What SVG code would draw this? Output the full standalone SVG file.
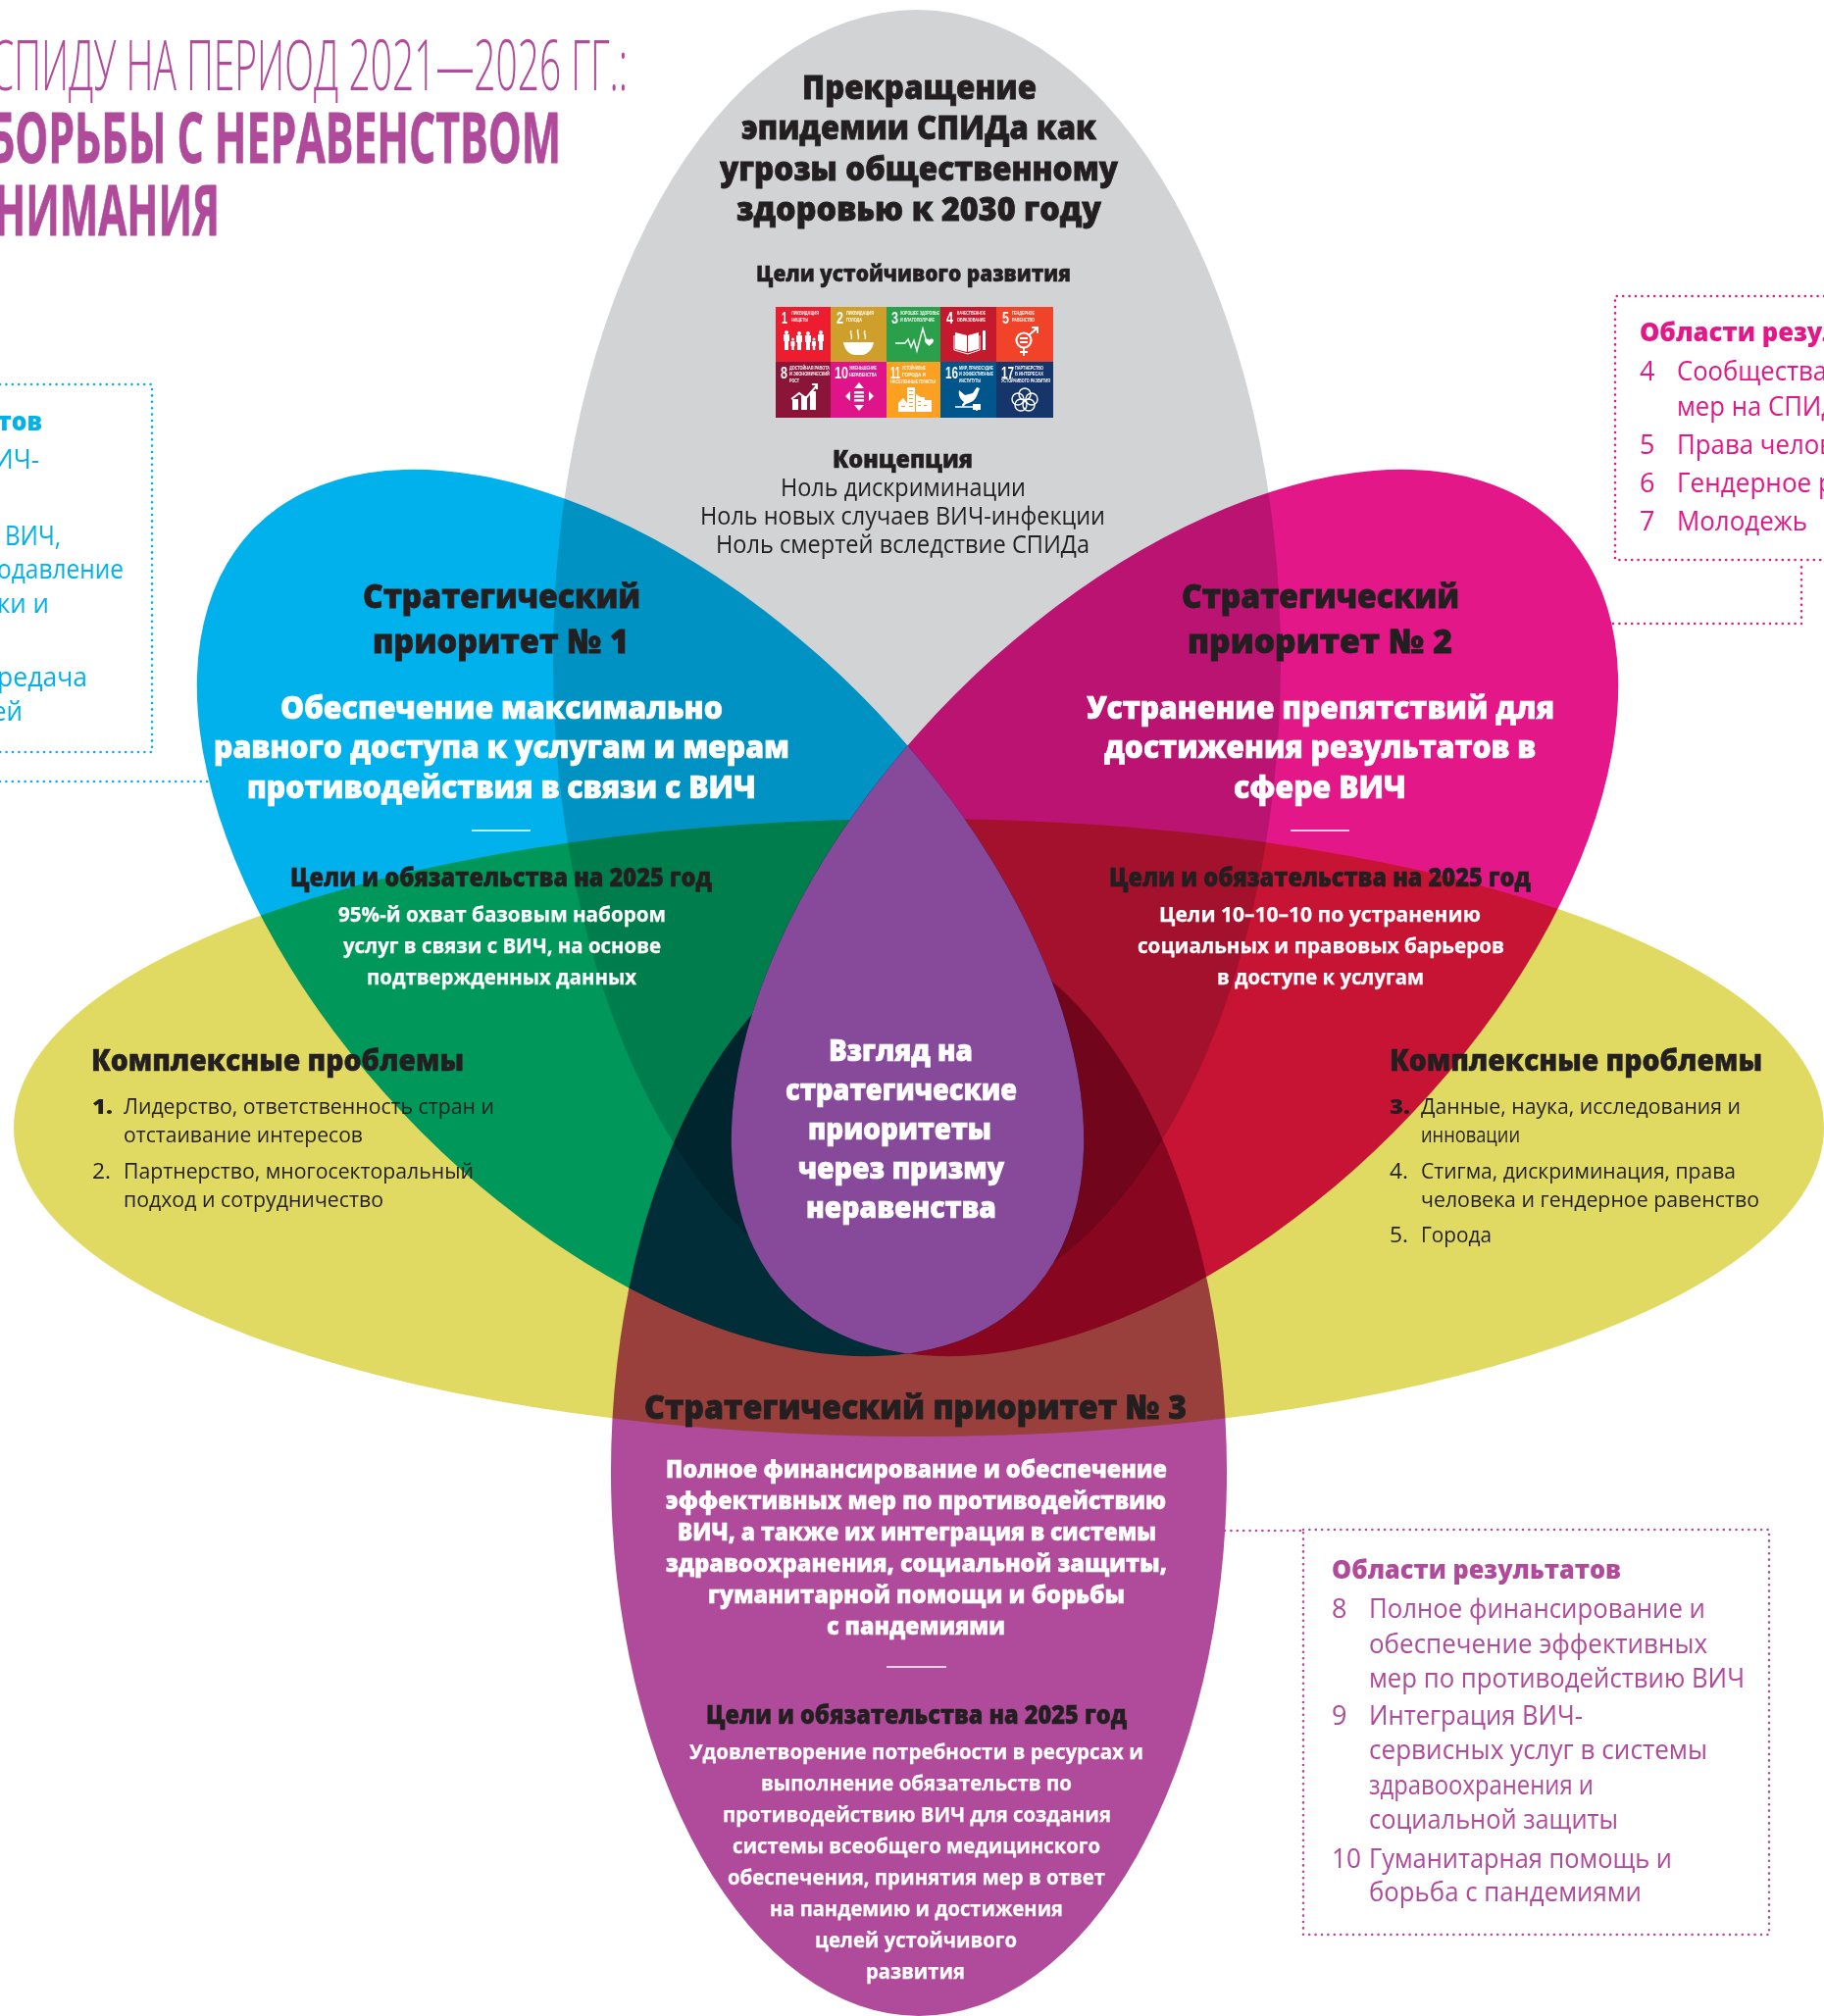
<svg xmlns="http://www.w3.org/2000/svg" width="1860" height="2056" viewBox="0 0 1860 2056">
<defs>
<clipPath id="pinkClip"><ellipse cx="1198" cy="931" rx="556" ry="316" transform="rotate(-45 1198 931)"/></clipPath>
</defs>
<style>
text{font-family:"Open Sans","Noto Sans",sans-serif;fill:#231F20}
.m{mix-blend-mode:multiply}
.h{font-weight:800;font-size:34px;stroke:#231F20;stroke-width:.8}
.h2{font-weight:800;font-size:26px;stroke:#231F20;stroke-width:.5}
.p{font-weight:700;font-size:21px;fill:#fff;stroke:#fff;stroke-width:.25}
.s{font-weight:800;font-size:31px;fill:#fff;stroke:#fff;stroke-width:.7}
.b{font-size:25px}
.c{font-size:21px}
.t{font-size:72px;fill:#B04A9A;font-weight:300}
.tb{font-size:72px;fill:#B04A9A;font-weight:700;stroke:#B04A9A;stroke-width:.8}
.o{font-size:27px}
.ob{font-size:27px;font-weight:800}
.cy{fill:#00B1EB}
.pk{fill:#E31788}
.pu{fill:#B04A9A}
.dot{fill:none;stroke-width:2.6;stroke-linecap:round;stroke-dasharray:0 6.4}
.rule{stroke:#fff;stroke-width:1.5}
.n{font-family:"Liberation Sans",sans-serif;font-weight:700;font-size:16px;fill:#fff}
.l{font-family:"Liberation Sans",sans-serif;font-weight:700;font-size:5px;fill:#fff}
.i{fill:#fff}
.il{fill:none;stroke:#fff;stroke-width:1.4}
.win{fill:#FBA020}
</style>
<rect width="1860" height="2056" fill="#fff"/>
<g id="title">
<text class="t" x="-10" y="92" textLength="650" lengthAdjust="spacingAndGlyphs">СПИДУ НА ПЕРИОД 2021—2026 ГГ.:</text>
<text class="tb" x="-12" y="166" textLength="584" lengthAdjust="spacingAndGlyphs">БОРЬБЫ С НЕРАВЕНСТВОМ</text>
<text class="tb" x="-6" y="240" textLength="230" lengthAdjust="spacingAndGlyphs">НИМАНИЯ</text>
</g>
<g id="petals">
<ellipse id="petal-goal" class="m" cx="935" cy="673" rx="371" ry="663" fill="#D1D3D4"/>
<ellipse id="petal-challenges" class="m" cx="937" cy="1150" rx="923" ry="315" fill="#E0DA63"/>
<ellipse id="petal-3" class="m" cx="937" cy="1501" rx="314" ry="555" fill="#B04A9A"/>
<ellipse id="petal-1" class="m" cx="653" cy="931" rx="556" ry="316" transform="rotate(45 653 931)" fill="#00B1EB"/>
<ellipse id="petal-2" class="m" cx="1198" cy="931" rx="556" ry="316" transform="rotate(-45 1198 931)" fill="#E31788"/>
<g id="petal-center" clip-path="url(#pinkClip)"><ellipse cx="653" cy="931" rx="556" ry="316" transform="rotate(45 653 931)" fill="#874A9B"/></g>
</g>
<g id="connectors">
<path class="dot" stroke="#00B1EB" d="M0 797H214"/>
<path class="dot" stroke="#E31788" d="M1645 636H1837V577"/>
<path class="dot" stroke="#B04A9A" d="M1249 1561H1329"/>
</g>
<g id="node-goal">
<text class="h" x="818" y="101" textLength="239" lengthAdjust="spacingAndGlyphs">Прекращение</text>
<text class="h" x="756" y="142" textLength="362" lengthAdjust="spacingAndGlyphs">эпидемии СПИДа как</text>
<text class="h" x="734" y="184" textLength="406" lengthAdjust="spacingAndGlyphs">угрозы общественному</text>
<text class="h" x="751" y="225" textLength="372" lengthAdjust="spacingAndGlyphs">здоровью к 2030 году</text>
<text class="h2" style="font-size:22px" x="771" y="287" textLength="321" lengthAdjust="spacingAndGlyphs">Цели устойчивого развития</text>
<text class="h2" style="font-size:25px" x="849" y="477" textLength="143" lengthAdjust="spacingAndGlyphs">Концепция</text>
<text class="b" x="796" y="506" textLength="250" lengthAdjust="spacingAndGlyphs">Ноль дискриминации</text>
<text class="b" x="714" y="535" textLength="413" lengthAdjust="spacingAndGlyphs">Ноль новых случаев ВИЧ-инфекции</text>
<text class="b" x="730" y="564" textLength="381" lengthAdjust="spacingAndGlyphs">Ноль смертей вследствие СПИДа</text>
</g>
<g id="sdg">
<rect x="791" y="313" width="56.5" height="56.5" fill="#ED1C2E"/>
<rect x="847" y="313" width="57.5" height="56.5" fill="#CF9F2B"/>
<rect x="904" y="313" width="55.5" height="56.5" fill="#2AA04A"/>
<rect x="959" y="313" width="57.5" height="56.5" fill="#C5192D"/>
<rect x="1016" y="313" width="58" height="56.5" fill="#F04329"/>
<rect x="791" y="369" width="56.5" height="57" fill="#8A1538"/>
<rect x="847" y="369" width="57.5" height="57" fill="#E0148A"/>
<rect x="904" y="369" width="55.5" height="57" fill="#FBA020"/>
<rect x="959" y="369" width="57.5" height="57" fill="#00558A"/>
<rect x="1016" y="369" width="58" height="57" fill="#16366B"/>
<text class="n" x="797" y="330" textLength="6" lengthAdjust="spacingAndGlyphs">1</text><text class="l" x="807" y="321" textLength="28" lengthAdjust="spacingAndGlyphs">ЛИКВИДАЦИЯ</text><text class="l" x="807" y="328" textLength="17" lengthAdjust="spacingAndGlyphs">НИЩЕТЫ</text>
<text class="n" x="853" y="330" textLength="7" lengthAdjust="spacingAndGlyphs">2</text><text class="l" x="863" y="321" textLength="28" lengthAdjust="spacingAndGlyphs">ЛИКВИДАЦИЯ</text><text class="l" x="863" y="328" textLength="16" lengthAdjust="spacingAndGlyphs">ГОЛОДА</text>
<text class="n" x="909" y="330" textLength="7" lengthAdjust="spacingAndGlyphs">3</text><text class="l" x="918" y="321" textLength="40" lengthAdjust="spacingAndGlyphs">ХОРОШЕЕ ЗДОРОВЬЕ</text><text class="l" x="918" y="328" textLength="35" lengthAdjust="spacingAndGlyphs">И БЛАГОПОЛУЧИЕ</text>
<text class="n" x="965" y="330" textLength="7" lengthAdjust="spacingAndGlyphs">4</text><text class="l" x="976" y="321" textLength="29" lengthAdjust="spacingAndGlyphs">КАЧЕСТВЕННОЕ</text><text class="l" x="976" y="328" textLength="29" lengthAdjust="spacingAndGlyphs">ОБРАЗОВАНИЕ</text>
<text class="n" x="1022" y="330" textLength="7" lengthAdjust="spacingAndGlyphs">5</text><text class="l" x="1032" y="321" textLength="23" lengthAdjust="spacingAndGlyphs">ГЕНДЕРНОЕ</text><text class="l" x="1032" y="328" textLength="23" lengthAdjust="spacingAndGlyphs">РАВЕНСТВО</text>
<text class="n" x="796" y="386" textLength="7" lengthAdjust="spacingAndGlyphs">8</text><text class="l" x="805" y="377" textLength="41" lengthAdjust="spacingAndGlyphs">ДОСТОЙНАЯ РАБОТА</text><text class="l" x="805" y="383" textLength="41" lengthAdjust="spacingAndGlyphs">И ЭКОНОМИЧЕСКИЙ</text><text class="l" x="805" y="390" textLength="10" lengthAdjust="spacingAndGlyphs">РОСТ</text>
<text class="n" x="851" y="386" textLength="14" lengthAdjust="spacingAndGlyphs">10</text><text class="l" x="866" y="377" textLength="28" lengthAdjust="spacingAndGlyphs">УМЕНЬШЕНИЕ</text><text class="l" x="866" y="384" textLength="28" lengthAdjust="spacingAndGlyphs">НЕРАВЕНСТВА</text>
<text class="n" x="908" y="386" textLength="10" lengthAdjust="spacingAndGlyphs">11</text><text class="l" x="920" y="377" textLength="24" lengthAdjust="spacingAndGlyphs">УСТОЙЧИВЫЕ</text><text class="l" x="920" y="384" textLength="24" lengthAdjust="spacingAndGlyphs">ГОРОДА И</text><text class="l" x="908" y="391" textLength="46" lengthAdjust="spacingAndGlyphs">НАСЕЛЕННЫЕ ПУНКТЫ</text>
<text class="n" x="964" y="386" textLength="13" lengthAdjust="spacingAndGlyphs">16</text><text class="l" x="978" y="377" textLength="35" lengthAdjust="spacingAndGlyphs">МИР, ПРАВОСУДИЕ</text><text class="l" x="978" y="383" textLength="35" lengthAdjust="spacingAndGlyphs">И ЭФФЕКТИВНЫЕ</text><text class="l" x="978" y="390" textLength="22" lengthAdjust="spacingAndGlyphs">ИНСТИТУТЫ</text>
<text class="n" x="1021" y="386" textLength="13" lengthAdjust="spacingAndGlyphs">17</text><text class="l" x="1035" y="377" textLength="29" lengthAdjust="spacingAndGlyphs">ПАРТНЕРСТВО</text><text class="l" x="1035" y="383" textLength="29" lengthAdjust="spacingAndGlyphs">В ИНТЕРЕСАХ</text><text class="l" x="1021" y="390" textLength="50" lengthAdjust="spacingAndGlyphs">УСТОЙЧИВОГО РАЗВИТИЯ</text>
<g id="sdg-icons">
<circle class="i" cx="802" cy="339" r="2"/><path class="i" d="M799 341h6v7h-1v9h-4v-9h-1z"/>
<circle class="i" cx="808.500" cy="346" r="1.500"/><path class="i" d="M806.500 348h4v5h-.8v4h-2.400v-4h-.8z"/>
<circle class="i" cx="815" cy="340" r="2"/><path class="i" d="M812 342h6v7h-1v8h-4v-8h-1z"/>
<circle class="i" cx="824" cy="340" r="2"/><path class="i" d="M821 342h6v7h-1v8h-4v-8h-1z"/>
<circle class="i" cx="830" cy="346" r="1.500"/><path class="i" d="M828 348h4v5h-.8v4h-2.400v-4h-.8z"/>
<circle class="i" cx="837" cy="339" r="2"/><path class="i" d="M834 341h6v7h-1v9h-4v-9h-1z"/>
<path class="i" d="M860 349h31c-1 8-7 12-11 13h-9c-5-1-10-5-11-13z"/>
<path class="il" d="M868 337c-2 3 2 5 0 9M875 336c-2 3 2 6 0 10M882 337c-2 3 2 5 0 9"/>
<path class="il" d="M913 350h10l3-4 3 8 3-7 3 11 6-23 4 14h3"/>
<path class="i" d="M943 347c1-2 4-2 4.500 0 .5-2 4-2 4.500 0 0 3-3 4-4.500 6-1.500-2-4.500-3-4.500-6z"/>
<path class="i" d="M974 339l12 3v17l-12-3zM998 339l-11 3v17l11-3z"/><path class="il" style="stroke-width:1" d="M973 342v15l14 4 12-4v-15"/>
<rect class="i" x="1002" y="337" width="3" height="20"/>
<circle cx="1044" cy="347" r="7.500" fill="none" stroke="#fff" stroke-width="2.200"/>
<path class="il" style="stroke-width:2" d="M1044 355v8M1040 359h8M1049 342l8-7M1052 334h6v6"/>
<path class="i" d="M1040 344h8v2h-8zM1040 348h8v2h-8z"/>
<path class="i" d="M808 407h6v11h-6zM817 404h6v14h-6zM826 399h6v19h-6z"/>
<path class="il" style="stroke-width:2" d="M807 407l8-6 7 5 11-13M828 392h5v5"/>
<path class="i" d="M876 390l5 6h-10zM876 419l5-6h-10zM862 404l5-5v10zM891 404l-5-5v10z"/><path class="i" d="M871 399h10v2.500h-10zM871 403h10v2.500h-10zM871 407h10v2.500h-10z"/>
<path class="i" d="M916 411l5-5 4 5v9h-9zM925 395h8v25h-8zM934 402l5 3h4v3h7v12h-16z"/>
<path class="win" d="M927 398h4v1h-4zM927 402h4v1h-4zM927 406h4v1h-4zM927 410h4v1h-4zM927 414h4v1h-4zM936 409h3v1h-3zM936 413h3v1h-3zM942 413h3v1h-3zM919 414h4v1h-4z"/>
<path class="i" d="M978 398l6 5 8-2 4-6 3 1-3 8c-2 4-5 6-8 7l-3 1-2 2-2-1 2-3c-4-3-6-7-5-12z"/>
<path class="il" d="M974 415h26M982 415v-3M996 413v6"/>
<rect class="i" x="992" y="412" width="8" height="6"/>
<g class="il"><circle cx="1045" cy="402" r="6"/><circle cx="1038" cy="407" r="6"/><circle cx="1052" cy="407" r="6"/><circle cx="1041" cy="413" r="6"/><circle cx="1049" cy="413" r="6"/></g>
</g>
</g>
<g id="node-1">
<text class="h" x="370" y="620" textLength="283" lengthAdjust="spacingAndGlyphs">Стратегический</text>
<text class="h" x="380" y="666" textLength="261" lengthAdjust="spacingAndGlyphs">приоритет № 1</text>
<text class="s" x="286" y="733" textLength="451" lengthAdjust="spacingAndGlyphs">Обеспечение максимально</text>
<text class="s" x="218" y="773" textLength="587" lengthAdjust="spacingAndGlyphs">равного доступа к услугам и мерам</text>
<text class="s" x="252" y="814" textLength="519" lengthAdjust="spacingAndGlyphs">противодействия в связи с ВИЧ</text>
<line class="rule" x1="481" y1="847" x2="541" y2="847"/>
<text class="h2" x="296" y="904" textLength="430" lengthAdjust="spacingAndGlyphs">Цели и обязательства на 2025 год</text>
<text class="p" x="345" y="940" textLength="334" lengthAdjust="spacingAndGlyphs">95%-й охват базовым набором</text>
<text class="p" x="350" y="972" textLength="324" lengthAdjust="spacingAndGlyphs">услуг в связи с ВИЧ, на основе</text>
<text class="p" x="374" y="1004" textLength="275" lengthAdjust="spacingAndGlyphs">подтвержденных данных</text>
</g>
<g id="node-2">
<text class="h" x="1205" y="620" textLength="283" lengthAdjust="spacingAndGlyphs">Стратегический</text>
<text class="h" x="1211" y="666" textLength="270" lengthAdjust="spacingAndGlyphs">приоритет  № 2</text>
<text class="s" x="1108" y="733" textLength="477" lengthAdjust="spacingAndGlyphs">Устранение препятствий для</text>
<text class="s" x="1126" y="773" textLength="440" lengthAdjust="spacingAndGlyphs">достижения результатов в</text>
<text class="s" x="1258" y="814" textLength="176" lengthAdjust="spacingAndGlyphs">сфере ВИЧ</text>
<line class="rule" x1="1316" y1="847" x2="1376" y2="847"/>
<text class="h2" x="1131" y="904" textLength="430" lengthAdjust="spacingAndGlyphs">Цели и обязательства на 2025 год</text>
<text class="p" x="1182" y="940" textLength="328" lengthAdjust="spacingAndGlyphs">Цели 10–10–10 по устранению</text>
<text class="p" x="1160" y="972" textLength="374" lengthAdjust="spacingAndGlyphs">социальных и правовых барьеров</text>
<text class="p" x="1241" y="1004" textLength="211" lengthAdjust="spacingAndGlyphs">в доступе к услугам</text>
</g>
<g id="node-challenges-left">
<text class="h2" style="font-size:30px" x="93" y="1092" textLength="380" lengthAdjust="spacingAndGlyphs">Комплексные проблемы</text>
<text class="c" style="font-weight:800" x="94" y="1136" textLength="21" lengthAdjust="spacingAndGlyphs">1.</text>
<text class="c" x="126" y="1136" textLength="378" lengthAdjust="spacingAndGlyphs">Лидерство, ответственность стран и</text>
<text class="c" x="126" y="1165" textLength="244" lengthAdjust="spacingAndGlyphs">отстаивание интересов</text>
<text class="c" x="94" y="1202" textLength="19" lengthAdjust="spacingAndGlyphs">2.</text>
<text class="c" x="126" y="1202" textLength="357" lengthAdjust="spacingAndGlyphs">Партнерство, многосекторальный</text>
<text class="c" x="126" y="1231" textLength="265" lengthAdjust="spacingAndGlyphs">подход и сотрудничество</text>
</g>
<g id="node-challenges-right">
<text class="h2" style="font-size:30px" x="1417" y="1092" textLength="380" lengthAdjust="spacingAndGlyphs">Комплексные проблемы</text>
<text class="c" style="font-weight:800" x="1417" y="1136" textLength="21" lengthAdjust="spacingAndGlyphs">3.</text>
<text class="c" x="1449" y="1136" textLength="326" lengthAdjust="spacingAndGlyphs">Данные, наука, исследования и</text>
<text class="c" x="1449" y="1165" textLength="101" lengthAdjust="spacingAndGlyphs">инновации</text>
<text class="c" x="1417" y="1202" textLength="19" lengthAdjust="spacingAndGlyphs">4.</text>
<text class="c" x="1449" y="1202" textLength="321" lengthAdjust="spacingAndGlyphs">Стигма, дискриминация, права</text>
<text class="c" x="1449" y="1231" textLength="345" lengthAdjust="spacingAndGlyphs">человека и гендерное равенство</text>
<text class="c" x="1417" y="1267" textLength="19" lengthAdjust="spacingAndGlyphs">5.</text>
<text class="c" x="1449" y="1267" textLength="72" lengthAdjust="spacingAndGlyphs">Города</text>
</g>
<g id="node-center">
<text class="s" style="font-size:30px" x="845" y="1082" textLength="147" lengthAdjust="spacingAndGlyphs">Взгляд на</text>
<text class="s" style="font-size:30px" x="801" y="1122" textLength="236" lengthAdjust="spacingAndGlyphs">стратегические</text>
<text class="s" style="font-size:30px" x="824" y="1162" textLength="187" lengthAdjust="spacingAndGlyphs">приоритеты</text>
<text class="s" style="font-size:30px" x="814" y="1202" textLength="210" lengthAdjust="spacingAndGlyphs">через призму</text>
<text class="s" style="font-size:30px" x="822" y="1242" textLength="194" lengthAdjust="spacingAndGlyphs">неравенства</text>
</g>
<g id="node-3">
<text class="h" x="657" y="1447" textLength="553" lengthAdjust="spacingAndGlyphs">Стратегический приоритет № 3</text>
<text class="p" style="font-size:25px;font-weight:800;stroke-width:.5" x="679" y="1507" textLength="511" lengthAdjust="spacingAndGlyphs">Полное финансирование и обеспечение</text>
<text class="p" style="font-size:25px;font-weight:800;stroke-width:.5" x="679" y="1539" textLength="510" lengthAdjust="spacingAndGlyphs">эффективных мер по противодействию</text>
<text class="p" style="font-size:25px;font-weight:800;stroke-width:.5" x="691" y="1571" textLength="488" lengthAdjust="spacingAndGlyphs">ВИЧ, а также их интеграция в системы</text>
<text class="p" style="font-size:25px;font-weight:800;stroke-width:.5" x="679" y="1603" textLength="511" lengthAdjust="spacingAndGlyphs">здравоохранения, социальной защиты,</text>
<text class="p" style="font-size:25px;font-weight:800;stroke-width:.5" x="722" y="1635" textLength="425" lengthAdjust="spacingAndGlyphs">гуманитарной помощи и борьбы</text>
<text class="p" style="font-size:25px;font-weight:800;stroke-width:.5" x="843" y="1667" textLength="182" lengthAdjust="spacingAndGlyphs">с пандемиями</text>
<line class="rule" x1="904" y1="1700" x2="965" y2="1700"/>
<text class="h2" x="720" y="1758" textLength="429" lengthAdjust="spacingAndGlyphs">Цели и обязательства на 2025 год</text>
<text class="p" x="703" y="1794" textLength="463" lengthAdjust="spacingAndGlyphs">Удовлетворение потребности в ресурсах и</text>
<text class="p" x="776" y="1826" textLength="317" lengthAdjust="spacingAndGlyphs">выполнение обязательств по</text>
<text class="p" x="737" y="1858" textLength="396" lengthAdjust="spacingAndGlyphs">противодействию ВИЧ для создания</text>
<text class="p" x="747" y="1890" textLength="375" lengthAdjust="spacingAndGlyphs">системы всеобщего медицинского</text>
<text class="p" x="742" y="1922" textLength="385" lengthAdjust="spacingAndGlyphs">обеспечения, принятия мер в ответ</text>
<text class="p" x="785" y="1954" textLength="299" lengthAdjust="spacingAndGlyphs">на пандемию и достижения</text>
<text class="p" x="831" y="1986" textLength="206" lengthAdjust="spacingAndGlyphs">целей устойчивого</text>
<text class="p" x="883" y="2018" textLength="101" lengthAdjust="spacingAndGlyphs">развития</text>
</g>
<g id="box-results-left">
<path class="dot" stroke="#00B1EB" d="M0 392H155V767H0"/>
<text class="ob cy" x="-3" y="439" textLength="46" lengthAdjust="spacingAndGlyphs">тов</text>
<text class="o cy" x="-6" y="478" textLength="46" lengthAdjust="spacingAndGlyphs">ИЧ-</text>
<text class="o cy" x="5" y="556" textLength="57" lengthAdjust="spacingAndGlyphs">ВИЧ,</text>
<text class="o cy" x="-3" y="590" textLength="129" lengthAdjust="spacingAndGlyphs">одавление</text>
<text class="o cy" x="-3" y="625" textLength="53" lengthAdjust="spacingAndGlyphs">ки и</text>
<text class="o cy" x="-3" y="700" textLength="92" lengthAdjust="spacingAndGlyphs">редача</text>
<text class="o cy" x="-8" y="735" textLength="31" lengthAdjust="spacingAndGlyphs">ей</text>
</g>
<g id="box-results-right">
<path class="dot" stroke="#E31788" d="M1860 302H1647V571H1860"/>
<text class="ob pk" x="1672" y="348" textLength="204" lengthAdjust="spacingAndGlyphs">Области резул</text>
<text class="o pk" x="1672" y="388">4</text><text class="o pk" x="1710" y="388" textLength="153" lengthAdjust="spacingAndGlyphs">Сообщества</text>
<text class="o pk" x="1710" y="424" textLength="165" lengthAdjust="spacingAndGlyphs">мер на СПИД</text>
<text class="o pk" x="1672" y="463">5</text><text class="o pk" x="1710" y="463" textLength="160" lengthAdjust="spacingAndGlyphs">Права челов</text>
<text class="o pk" x="1672" y="502">6</text><text class="o pk" x="1710" y="502" textLength="160" lengthAdjust="spacingAndGlyphs">Гендерное р</text>
<text class="o pk" x="1672" y="541">7</text><text class="o pk" x="1710" y="541" textLength="133" lengthAdjust="spacingAndGlyphs">Молодежь</text>
</g>
<g id="box-results-bottom">
<rect class="dot" stroke="#B04A9A" x="1329" y="1560" width="475" height="413"/>
<text class="ob pu" x="1358" y="1610" textLength="295" lengthAdjust="spacingAndGlyphs">Области результатов</text>
<text class="o pu" x="1358" y="1650">8</text><text class="o pu" x="1396" y="1650" textLength="343" lengthAdjust="spacingAndGlyphs">Полное финансирование и</text>
<text class="o pu" x="1396" y="1686" textLength="345" lengthAdjust="spacingAndGlyphs">обеспечение эффективных</text>
<text class="o pu" x="1396" y="1721" textLength="383" lengthAdjust="spacingAndGlyphs">мер по противодействию ВИЧ</text>
<text class="o pu" x="1358" y="1759">9</text><text class="o pu" x="1396" y="1759" textLength="218" lengthAdjust="spacingAndGlyphs">Интеграция ВИЧ-</text>
<text class="o pu" x="1396" y="1794" textLength="345" lengthAdjust="spacingAndGlyphs">сервисных услуг в системы</text>
<text class="o pu" x="1396" y="1830" textLength="229" lengthAdjust="spacingAndGlyphs">здравоохранения и</text>
<text class="o pu" x="1396" y="1865" textLength="254" lengthAdjust="spacingAndGlyphs">социальной защиты</text>
<text class="o pu" x="1358" y="1905" textLength="30" lengthAdjust="spacingAndGlyphs">10</text><text class="o pu" x="1396" y="1905" textLength="309" lengthAdjust="spacingAndGlyphs">Гуманитарная помощь и</text>
<text class="o pu" x="1396" y="1939" textLength="278" lengthAdjust="spacingAndGlyphs">борьба с пандемиями</text>
</g>
</svg>
